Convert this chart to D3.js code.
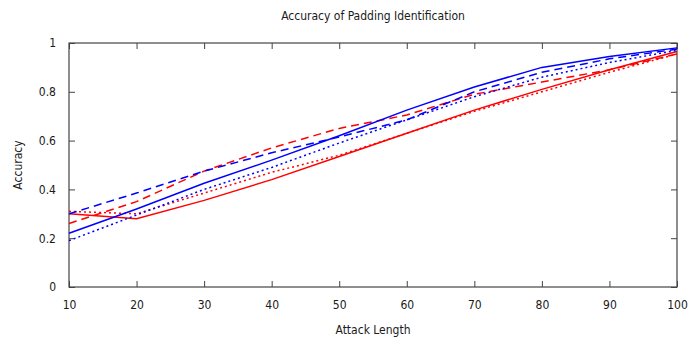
<!DOCTYPE html>
<html>
<head>
<meta charset="utf-8">
<script src="https://cdn.jsdelivr.net/npm/d3@7"></script>
<style>
  body { margin: 0; background: #fff; }
  svg text { font-family: "DejaVu Sans Condensed", "DejaVu Sans", sans-serif; fill: #1a1a1a; }
</style>
</head>
<body>
<div id="chart"></div>
<script>
// attack lengths on the x axis
const attackLengths = [10, 20, 30, 40, 50, 60, 70, 80, 90, 100];

// accuracy values
const redSolid   = [0.30, 0.28, 0.355, 0.44, 0.535, 0.63, 0.725, 0.81, 0.89, 0.965];
const redDashed  = [0.26, 0.35, 0.475, 0.57, 0.65, 0.705, 0.79, 0.84, 0.89, 0.955];
const redDotted  = [0.31, 0.30, 0.385, 0.47, 0.54, 0.63, 0.72, 0.80, 0.88, 0.955];
const blueSolid  = [0.22, 0.32, 0.425, 0.52, 0.62, 0.725, 0.82, 0.90, 0.945, 0.98];
const blueDashed = [0.30, 0.385, 0.475, 0.55, 0.615, 0.685, 0.80, 0.88, 0.935, 0.975];
const blueDotted = [0.19, 0.295, 0.40, 0.49, 0.59, 0.685, 0.78, 0.86, 0.92, 0.97];

const yTicks = [0, 0.2, 0.4, 0.6, 0.8, 1];

const series = [
  { values: redSolid,   color: '#ff0000', dash: null },
  { values: redDashed,  color: '#ff0000', dash: '8,5' },
  { values: redDotted,  color: '#ff0000', dash: '2,3' },
  { values: blueSolid,  color: '#0000ff', dash: null },
  { values: blueDashed, color: '#0000ff', dash: '8,5' },
  { values: blueDotted, color: '#0000ff', dash: '2,3' }
];

const W = 700, H = 339;
const margin = { top: 43, right: 23, bottom: 52, left: 69 };
const width = W - margin.left - margin.right;
const height = H - margin.top - margin.bottom;

const svg = d3.select('#chart').append('svg')
  .attr('width', W)
  .attr('height', H);

const g = svg.append('g')
  .attr('transform', `translate(${margin.left},${margin.top})`);

const x = d3.scaleLinear().domain([10, 100]).range([0, width]);
const y = d3.scaleLinear().domain([0, 1]).range([height, 0]);

const frameColor = '#444';
const tickLen = 6;

// bottom axis (ticks pointing inward)
const xAxis = g.append('g')
  .attr('transform', `translate(0,${height})`)
  .call(d3.axisBottom(x).tickValues(attackLengths).tickSize(-tickLen).tickPadding(13).tickFormat(d3.format('d')));
// top mirror ticks
const xTop = g.append('g')
  .call(d3.axisTop(x).tickValues(attackLengths).tickSize(-tickLen).tickFormat(''));
// left axis
const yAxis = g.append('g')
  .call(d3.axisLeft(y).tickValues(yTicks).tickSize(-tickLen).tickPadding(13).tickFormat(d => d3.format('')(+d.toFixed(1))));
// right mirror ticks
const yRight = g.append('g')
  .attr('transform', `translate(${width},0)`)
  .call(d3.axisRight(y).tickValues(yTicks).tickSize(-tickLen).tickFormat(''));

[xAxis, xTop, yAxis, yRight].forEach(a => {
  a.select('.domain').remove();
  a.selectAll('.tick line').attr('stroke', frameColor).attr('stroke-width', 1);
  a.selectAll('.tick text').attr('font-size', 12).attr('fill', '#1a1a1a');
});

// frame
g.append('rect')
  .attr('x', 0).attr('y', 0)
  .attr('width', width).attr('height', height)
  .attr('fill', 'none')
  .attr('stroke', frameColor)
  .attr('stroke-width', 1.2);

// lines
const line = d3.line()
  .x((d, i) => x(attackLengths[i]))
  .y(d => y(d));

series.forEach(s => {
  g.append('path')
    .datum(s.values)
    .attr('fill', 'none')
    .attr('stroke', s.color)
    .attr('stroke-width', 1.5)
    .attr('stroke-dasharray', s.dash)
    .attr('d', line);
});

// title and axis labels
svg.append('text')
  .attr('x', margin.left + width / 2)
  .attr('y', 20)
  .attr('text-anchor', 'middle')
  .attr('font-size', 12)
  .text('Accuracy of Padding Identification');

svg.append('text')
  .attr('x', margin.left + width / 2)
  .attr('y', 334)
  .attr('text-anchor', 'middle')
  .attr('font-size', 12)
  .text('Attack Length');

svg.append('text')
  .attr('transform', `translate(22,${margin.top + height / 2}) rotate(-90)`)
  .attr('text-anchor', 'middle')
  .attr('font-size', 12)
  .text('Accuracy');
</script>
</body>
</html>
